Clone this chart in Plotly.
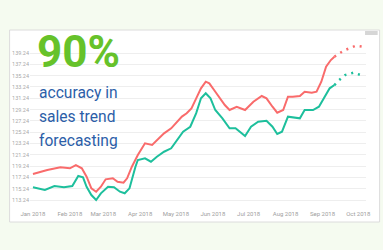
import plotly.graph_objects as go

# ---------------- data ----------------
actual_dates = ["2018-01-01", "2018-01-13", "2018-01-24", "2018-02-01", "2018-02-06", "2018-02-11",
                "2018-02-15", "2018-02-19", "2018-02-23", "2018-02-27", "2018-03-03", "2018-03-09",
                "2018-03-13", "2018-03-18", "2018-03-21", "2018-03-25", "2018-03-30", "2018-04-05",
                "2018-04-11", "2018-04-15", "2018-04-21", "2018-04-27", "2018-05-02", "2018-05-06",
                "2018-05-10", "2018-05-14", "2018-05-18", "2018-05-22", "2018-05-26", "2018-05-29",
                "2018-06-02", "2018-06-07", "2018-06-11", "2018-06-15", "2018-06-21", "2018-06-28",
                "2018-07-05", "2018-07-12", "2018-07-16", "2018-07-21", "2018-07-25", "2018-07-30",
                "2018-08-03", "2018-08-07", "2018-08-13", "2018-08-17", "2018-08-23", "2018-08-27",
                "2018-08-31", "2018-09-04", "2018-09-08", "2018-09-11"]
actual_values = [117.84, 118.55, 119.02, 118.85, 119.43, 118.85,
                 117.36, 115.31, 114.71, 115.59, 116.90, 117.08,
                 116.48, 116.30, 117.08, 119.13, 121.20, 123.27,
                 122.97, 123.85, 125.04, 125.92, 127.09, 128.00,
                 128.58, 129.46, 131.23, 133.00, 134.17, 133.88,
                 132.70, 131.23, 130.05, 129.16, 129.74, 129.16,
                 130.63, 131.64, 131.23, 129.74, 128.68, 129.16,
                 131.51, 131.51, 131.64, 132.40, 132.22, 132.40,
                 134.17, 136.82, 138.00, 138.59]
actual_fc_dates = ["2018-09-11", "2018-09-15", "2018-09-20", "2018-09-29", "2018-10-05"]
actual_fc_values = [138.59, 139.19, 139.77, 140.53, 140.36]

model_dates = ["2018-01-01", "2018-01-11", "2018-01-19", "2018-01-27", "2018-02-03", "2018-02-08",
               "2018-02-12", "2018-02-15", "2018-02-19", "2018-02-23", "2018-02-27", "2018-03-05",
               "2018-03-10", "2018-03-15", "2018-03-19", "2018-03-23", "2018-03-28", "2018-03-30",
               "2018-04-05", "2018-04-10", "2018-04-15", "2018-04-21", "2018-04-27", "2018-05-02",
               "2018-05-07", "2018-05-13", "2018-05-18", "2018-05-22", "2018-05-26", "2018-05-30",
               "2018-06-03", "2018-06-09", "2018-06-15", "2018-06-20", "2018-06-28", "2018-07-03",
               "2018-07-09", "2018-07-16", "2018-07-21", "2018-07-25", "2018-07-29", "2018-08-03",
               "2018-08-07", "2018-08-13", "2018-08-17", "2018-08-24", "2018-08-29", "2018-09-03",
               "2018-09-07", "2018-09-11"]
model_values = [115.49, 115.01, 115.72, 115.49, 115.72, 117.49,
                117.26, 115.59, 114.12, 113.24, 114.43, 115.59,
                115.49, 114.71, 114.43, 115.31, 119.13, 120.32,
                120.62, 120.02, 120.90, 121.78, 122.39, 123.85,
                125.32, 126.20, 128.60, 131.23, 132.12, 131.23,
                129.16, 127.69, 125.92, 125.92, 124.56, 126.21,
                127.09, 127.27, 126.21, 124.92, 125.32, 127.98,
                127.87, 127.69, 129.16, 129.16, 129.74, 131.51,
                133.00, 133.58]
model_fc_dates = ["2018-09-11", "2018-09-15", "2018-09-20", "2018-09-27", "2018-10-03"]
model_fc_values = [133.58, 134.47, 135.35, 135.76, 135.35]

y_ticks = [113.24, 115.24, 117.24, 119.24, 121.24, 123.24, 125.24,
           127.24, 129.24, 131.24, 133.24, 135.24, 137.24, 139.24]

headline = "90%"
subtitle_lines = ["accuracy in", "sales trend", "forecasting"]

RED = "#f96b6b"
TEAL = "#1dbf9c"

# ---------------- figure ----------------
fig = go.Figure()
fig.add_trace(go.Scatter(x=actual_dates, y=actual_values, mode="lines",
                         line=dict(color=RED, width=2), hoverinfo="skip"))
fig.add_trace(go.Scatter(x=actual_fc_dates, y=actual_fc_values, mode="lines",
                         line=dict(color=RED, width=2.5, dash="2px,5px"), hoverinfo="skip"))
fig.add_trace(go.Scatter(x=model_dates, y=model_values, mode="lines",
                         line=dict(color=TEAL, width=2), hoverinfo="skip"))
fig.add_trace(go.Scatter(x=model_fc_dates, y=model_fc_values, mode="lines",
                         line=dict(color=TEAL, width=2.5, dash="2px,5px"), hoverinfo="skip"))

L, R, T, B = 22, 15, 45, 45
W, H = 383, 250
pw, ph = W - L - R, H - T - B


def px(x):
    return (x - L) / pw


def py(y):
    return (H - B - y) / ph


# white chart card
fig.add_shape(type="rect", xref="paper", yref="paper",
              x0=px(1), x1=px(382), y0=py(222), y1=py(30),
              fillcolor="white", line=dict(color="#dcdcdc", width=1), layer="below")
fig.add_shape(type="rect", xref="paper", yref="paper",
              x0=px(367), x1=px(380), y0=py(35), y1=py(31),
              fillcolor="#d6d6d6", line=dict(width=0), layer="below")

fig.add_annotation(text=f"<b>{headline}</b>", xref="paper", yref="paper",
                   x=px(27), y=py(52), xanchor="left", yanchor="middle", showarrow=False,
                   font=dict(family="Roboto", size=44, color="#66c22a"))
for i, line in enumerate(subtitle_lines):
    fig.add_annotation(text=line, xref="paper", yref="paper",
                       x=px(29), y=py(93 + 24 * i), xanchor="left", yanchor="middle",
                       showarrow=False,
                       font=dict(family="Roboto", size=15.6, color="#2c5ea8"))

fig.update_layout(
    width=W, height=H,
    margin=dict(l=L, r=R, t=T, b=B),
    paper_bgcolor="#f5fbf0",
    plot_bgcolor="rgba(0,0,0,0)",
    showlegend=False,
    xaxis=dict(range=["2017-12-29 12:00", "2018-10-07 12:00"], showgrid=False, zeroline=False,
               tickformat="%b %Y", dtick="M1", tick0="2018-01-01", ticks="",
               ticklabelstandoff=4,
               tickfont=dict(family="Roboto", size=6, color="#a0a0a0"), showline=False),
    yaxis=dict(range=[112.36, 140.66], tickvals=y_ticks,
               ticktext=[f"{v:.2f}" for v in y_ticks],
               showgrid=True, gridcolor="#eeeeee", gridwidth=1, zeroline=False, ticks="",
               tickfont=dict(family="Roboto", size=5.5, color="#a8a8a8"), showline=False),
)

fig.write_html("out.html")
